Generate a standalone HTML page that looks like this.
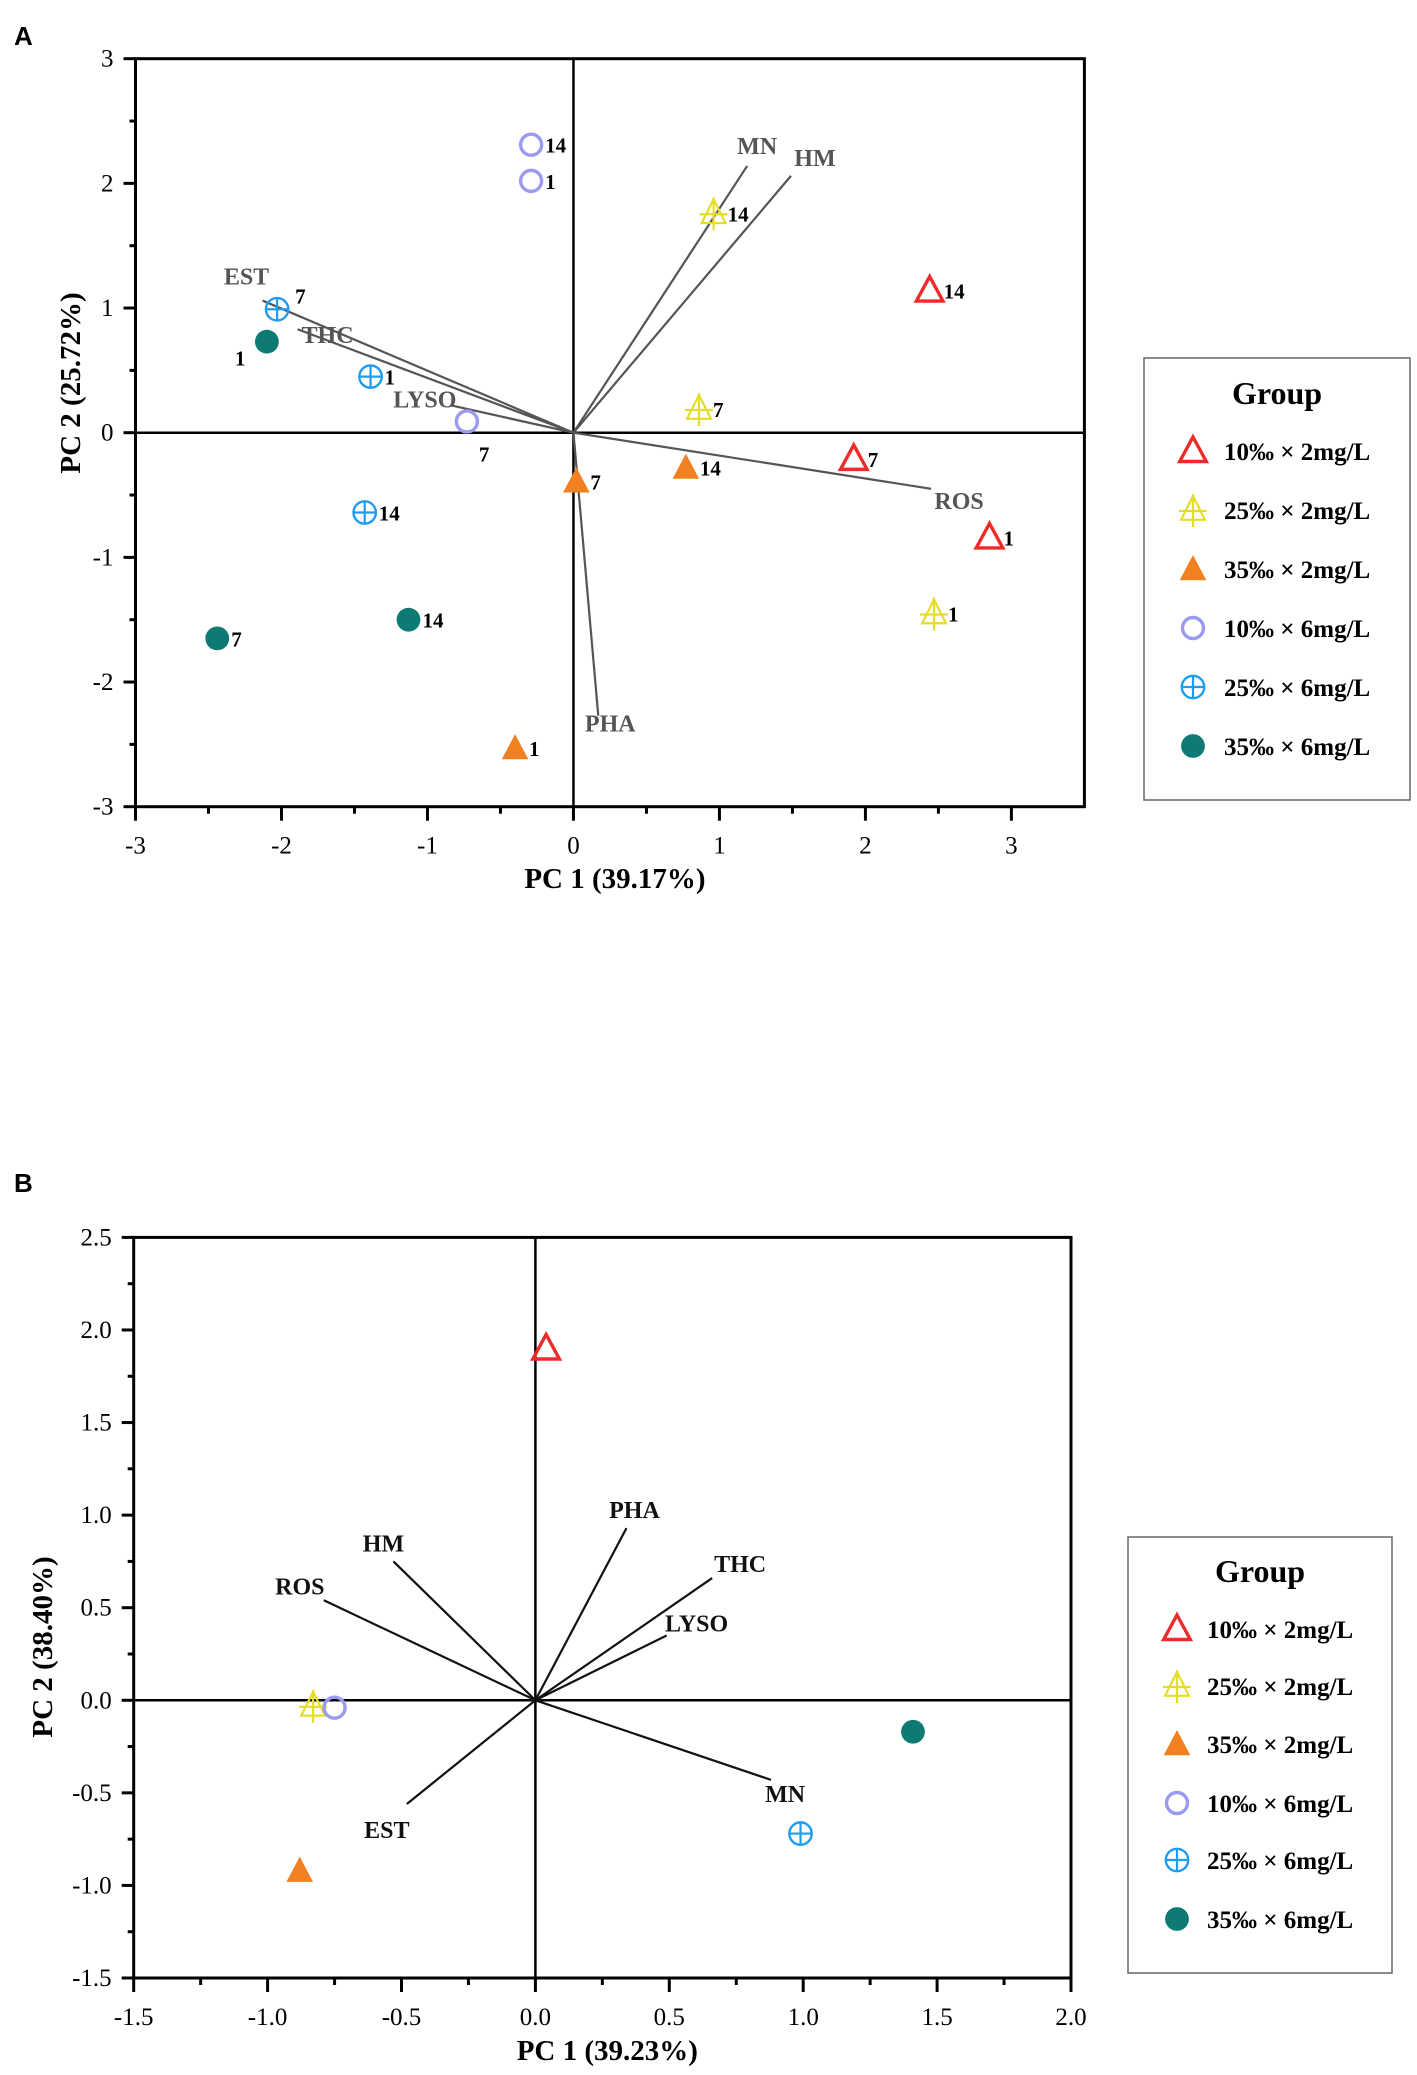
<!DOCTYPE html>
<html><head><meta charset="utf-8"><style>
body{margin:0;background:#fff;}
svg{display:block;font-family:"Liberation Serif",serif;}
</style></head><body>
<svg id="s" width="1417" height="2075" viewBox="0 0 1417 2075" xmlns="http://www.w3.org/2000/svg">
<text x="14" y="45" font-family="Liberation Sans,sans-serif" font-weight="bold" font-size="26">A</text>
<text x="14" y="1192" font-family="Liberation Sans,sans-serif" font-weight="bold" font-size="26">B</text>
</svg>
<script>
// ---------- Data: Panel A ----------
const groupNames = ["10‰ × 2mg/L","25‰ × 2mg/L","35‰ × 2mg/L","10‰ × 6mg/L","25‰ × 6mg/L","35‰ × 6mg/L"];
const aDays = ["14","7","1"];
const aPC1_g1 = [2.44, 1.92, 2.85];  const aPC2_g1 = [1.14, -0.21, -0.84];
const aPC1_g2 = [0.96, 0.86, 2.47];  const aPC2_g2 = [1.76, 0.19, -1.45];
const aPC1_g3 = [0.77, 0.02, -0.40]; const aPC2_g3 = [-0.28, -0.39, -2.53];
const aPC1_g4 = [-0.29, -0.73, -0.29]; const aPC2_g4 = [2.31, 0.09, 2.02];
const aPC1_g5 = [-1.43, -2.03, -1.39]; const aPC2_g5 = [-0.64, 0.99, 0.45];
const aPC1_g6 = [-1.13, -2.44, -2.10]; const aPC2_g6 = [-1.50, -1.65, 0.73];
const aLoadNames = ["MN","HM","EST","THC","LYSO","ROS","PHA"];
const aLoadPC1 = [1.19, 1.49, -2.13, -1.89, -0.84, 2.45, 0.17];
const aLoadPC2 = [2.14, 2.06, 1.06, 0.83, 0.22, -0.45, -2.27];
const aXTicks = ["-3","-2","-1","0","1","2","3"];
const aYTicks = ["-3","-2","-1","0","1","2","3"];
// ---------- Data: Panel B ----------
const bPC1 = [0.04, -0.83, -0.88, -0.75, 0.99, 1.41];
const bPC2 = [1.90, -0.03, -0.92, -0.04, -0.72, -0.17];
const bLoadNames = ["PHA","THC","LYSO","HM","ROS","EST","MN"];
const bLoadPC1 = [0.34, 0.66, 0.49, -0.53, -0.79, -0.48, 0.88];
const bLoadPC2 = [0.93, 0.66, 0.35, 0.75, 0.54, -0.56, -0.43];
const bXTicks = ["-1.5","-1.0","-0.5","0.0","0.5","1.0","1.5","2.0"];
const bYTicks = ["-1.5","-1.0","-0.5","0.0","0.5","1.0","1.5","2.0","2.5"];

const NS="http://www.w3.org/2000/svg";
const svg=document.getElementById('s');
function mk(tag,attrs,parent){const e=document.createElementNS(NS,tag);for(const k in attrs)e.setAttribute(k,attrs[k]);(parent||svg).appendChild(e);return e;}
function txt(s,attrs,parent){const e=mk('text',attrs,parent);e.textContent=s;return e;}
const colors=["#ee2b2b","#e5dd2a","#f08020","#9a9af0","#1e9cf0","#0d7b73"];

function marker(g,x,y,r,parent){
  const c=colors[g];let e;
  if(g===0){e=mk('polygon',{points:`${x},${y-r} ${x+r*0.95},${y+r*0.75} ${x-r*0.95},${y+r*0.75}`,fill:'none',stroke:c,'stroke-width':3.4},parent);}
  else if(g===1){e=mk('g',{},parent);
    mk('polygon',{points:`${x},${y-r} ${x+r*0.85},${y+r*0.7} ${x-r*0.85},${y+r*0.7}`,fill:'none',stroke:c,'stroke-width':2.2},e);
    mk('line',{x1:x,y1:y-r-2,x2:x,y2:y+r+3,stroke:c,'stroke-width':2.2},e);
    mk('line',{x1:x-r,y1:y+1,x2:x+r,y2:y+1,stroke:c,'stroke-width':2.2},e);}
  else if(g===2){e=mk('polygon',{points:`${x},${y-r} ${x+r*0.95},${y+r*0.8} ${x-r*0.95},${y+r*0.8}`,fill:c},parent);}
  else if(g===3){e=mk('circle',{cx:x,cy:y,r:r*0.75,fill:'none',stroke:c,'stroke-width':3.4},parent);}
  else if(g===4){e=mk('g',{},parent);
    mk('circle',{cx:x,cy:y,r:r*0.8,fill:'none',stroke:c,'stroke-width':2.4},e);
    mk('line',{x1:x-r*0.8,y1:y,x2:x+r*0.8,y2:y,stroke:c,'stroke-width':2.2},e);
    mk('line',{x1:x,y1:y-r*0.8,x2:x,y2:y+r*0.8,stroke:c,'stroke-width':2.2},e);}
  else {e=mk('circle',{cx:x,cy:y,r:r*0.85,fill:c},parent);}
  return e;
}

function panel(cfg){
  const P=mk('g',{});
  
  
  const X=v=>cfg.l+(v-cfg.xmin)/(cfg.xmax-cfg.xmin)*(cfg.r-cfg.l);
  const Y=v=>cfg.b-(v-cfg.ymin)/(cfg.ymax-cfg.ymin)*(cfg.b-cfg.t);
  const zx=mk('line',{x1:X(0),y1:cfg.t,x2:X(0),y2:cfg.b,stroke:'#000','stroke-width':2.5},P);
  
  const zy=mk('line',{x1:cfg.l,y1:Y(0),x2:cfg.r,y2:Y(0),stroke:'#000','stroke-width':2.5},P);
  
  const fr=mk('rect',{x:cfg.l,y:cfg.t,width:cfg.r-cfg.l,height:cfg.b-cfg.t,fill:'none',stroke:'#000','stroke-width':3},P);
  
  cfg.xt.forEach((s,i)=>{const v=parseFloat(s);const x=X(v);
    mk('line',{x1:x,y1:cfg.b,x2:x,y2:cfg.b+14,stroke:'#000','stroke-width':3},P);
    const h=X(v+cfg.xs/2); if(h<cfg.r) mk('line',{x1:h,y1:cfg.b,x2:h,y2:cfg.b+7,stroke:'#000','stroke-width':3},P);
    const t=txt(s,{x:x,y:cfg.b+47,'text-anchor':'middle','font-size':25},P);
    });
  cfg.yt.forEach((s,i)=>{const v=parseFloat(s);const y=Y(v);
    mk('line',{x1:cfg.l-12,y1:y,x2:cfg.l,y2:y,stroke:'#000','stroke-width':3},P);
    const h=Y(v+cfg.ys/2); if(h>cfg.t) mk('line',{x1:cfg.l-6,y1:h,x2:cfg.l,y2:h,stroke:'#000','stroke-width':3},P);
    const t=txt(s,{x:cfg.l-22,y:y+8,'text-anchor':'end','font-size':25},P);
    });
  const xt=txt(cfg.xtitle,{x:(cfg.l+cfg.r)/2+5,y:cfg.xty,'text-anchor':'middle','font-size':29,'font-weight':'bold'},P);
  
  const yt=txt(cfg.ytitle,{x:0,y:0,'text-anchor':'middle','font-size':29,'font-weight':'bold',transform:`translate(${cfg.ytx},${cfg.yty}) rotate(-90)`},P);
  
  cfg.ln.forEach((n,i)=>{
    const ln=mk('line',{x1:X(0),y1:Y(0),x2:X(cfg.lx[i]),y2:Y(cfg.ly[i]),stroke:cfg.lc,'stroke-width':2.2},P);
    
    const o=cfg.lo[i];
    const t=txt(n,{x:X(cfg.lx[i])+o[0],y:Y(cfg.ly[i])+o[1],'font-size':24,'font-weight':'bold',fill:cfg.lc,'text-anchor':'middle'},P);
    
  });
  return {P,X,Y};
}

function legend(x,y,w,h,titleY,rowY,mx,tx){
  const G=mk('g',{});
  
  
  mk('rect',{x:x,y:y,width:w,height:h,fill:'#fff',stroke:'#666','stroke-width':1.5},G);
  const t=txt('Group',{x:x+w/2,y:titleY,'text-anchor':'middle','font-size':32,'font-weight':'bold'},G);
  
  groupNames.forEach((n,i)=>{
    const ent=mk('g',{},G);
    
    
    marker(i,mx,rowY[i],14,ent);
    txt(n,{x:tx,y:rowY[i]+9,'font-size':25,'font-weight':'bold'},ent);
  });
}

// ---- Panel A ----
const A=panel({name:'panel-a-biplot',l:135.5,r:1084.4,t:58.7,b:806.7,xmin:-3,xmax:3.5,ymin:-3,ymax:3,xs:1,ys:1,
  xt:aXTicks,yt:aYTicks,xtitle:'PC 1 (39.17%)',xty:888,ytitle:'PC 2 (25.72%)',ytx:80,yty:383,
  ln:aLoadNames,lx:aLoadPC1,ly:aLoadPC2,lc:'#555',
  lo:[[10,-12],[24,-10],[-16,-16],[30,14],[-26,2],[28,20],[12,16]]});
const aX=[aPC1_g1,aPC1_g2,aPC1_g3,aPC1_g4,aPC1_g5,aPC1_g6];
const aY=[aPC2_g1,aPC2_g2,aPC2_g3,aPC2_g4,aPC2_g5,aPC2_g6];
aX.forEach((xs,g)=>{xs.forEach((v,i)=>{
  const px=A.X(v),py=A.Y(aY[g][i]);
  const m=marker(g,px,py,14,A.P);
  
  
  let dx=14,dy=8;
  if(g===5&&aDays[i]==='1'){dx=-32;dy=24;}
  if(g===3&&aDays[i]==='7'){dx=12;dy=40;}
  if(g===4&&aDays[i]==='7'){dx=18;dy=-6;}
  const t=txt(aDays[i],{x:px+dx,y:py+dy,'font-size':21,'font-weight':'bold'},A.P);
  
});});
legend(1144,358,266,442,404,[451,510,569,628,687,746],1193,1224);

// ---- Panel B ----
const B=panel({name:'panel-b-biplot',l:133.7,r:1071,t:1237.4,b:1978,xmin:-1.5,xmax:2.0,ymin:-1.5,ymax:2.5,xs:0.5,ys:0.5,
  xt:bXTicks,yt:bYTicks,xtitle:'PC 1 (39.23%)',xty:2060,ytitle:'PC 2 (38.40%)',ytx:52,yty:1647,
  ln:bLoadNames,lx:bLoadPC1,ly:bLoadPC2,lc:'#111',
  lo:[[8,-10],[28,-6],[30,-4],[-10,-10],[-24,-6],[-20,34],[14,22]]});
bPC1.forEach((v,g)=>{
  const m=marker(g,B.X(v),B.Y(bPC2[g]),14,B.P);
  
  
});
legend(1128,1537,264,436,1582,[1629,1686,1744,1803,1860,1919],1177,1207);
</script>
</body></html>
